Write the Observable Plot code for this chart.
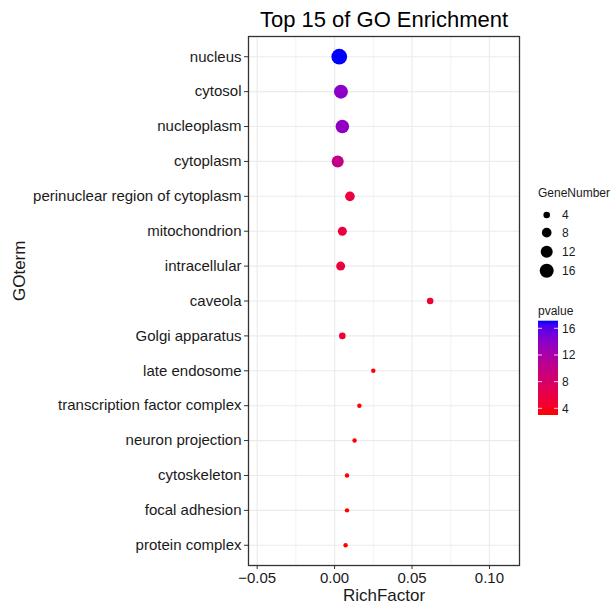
<!DOCTYPE html>
<html>
<head>
<meta charset="utf-8">
<script src="https://cdn.jsdelivr.net/npm/d3@7"></script>
<script src="https://cdn.jsdelivr.net/npm/@observablehq/plot@0.6"></script>
<style>
  html, body { margin: 0; padding: 0; background: #fff; }
  #chart { position: relative; width: 611px; height: 606px; }
</style>
</head>
<body>
<div id="chart"></div>
<script>
const terms = [
  "nucleus", "cytosol", "nucleoplasm", "cytoplasm", "perinuclear region of cytoplasm",
  "mitochondrion", "intracellular", "caveola", "Golgi apparatus", "late endosome",
  "transcription factor complex", "neuron projection", "cytoskeleton", "focal adhesion", "protein complex"
];
const richFactor = [0.0030, 0.0041, 0.0050, 0.0020, 0.0099, 0.0050, 0.0039, 0.0617, 0.0050, 0.0250, 0.0160, 0.0129, 0.0080, 0.0080, 0.0071];
const geneNumber = [20, 16, 15, 12, 8, 7, 7, 4, 4, 2, 2, 2, 2, 2, 2];
const pvalue = [17.14, 13.9, 13.6, 10.0, 5.6, 5.4, 5.3, 5.0, 5.1, 3.2, 3.1, 3.1, 3.0, 3.0, 3.0];
const xTicks = [-0.05, 0, 0.05, 0.10];
const xMinor = [-0.025, 0.025, 0.075];
const sizeBreaks = [4, 8, 12, 16];
const colorBreaks = [4, 8, 12, 16];

const data = terms.map((t, i) => ({term: t, rich: richFactor[i], genes: geneNumber[i], pvalue: pvalue[i]}));
const font = "'Liberation Sans', Arial, Helvetica, sans-serif";

const plot = Plot.plot({
  width: 611,
  height: 606,
  marginLeft: 248,
  marginRight: 92,
  marginTop: 36,
  marginBottom: 41,
  style: {fontFamily: font, background: "white", color: "#1a1a1a", overflow: "visible"},
  x: {domain: [-0.0556, 0.1194], label: null},
  y: {type: "point", domain: terms, padding: 0.58, round: false, label: null},
  r: {type: "pow", exponent: 0.5, domain: [4, 16], range: [3.3, 7]},
  color: {type: "linear", domain: d3.extent(pvalue), range: ["red", "blue"], interpolate: "lab"},
  marks: [
    Plot.ruleX(xMinor, {stroke: "#ebebeb", strokeWidth: 0.6}),
    Plot.ruleX(xTicks, {stroke: "#ebebeb", strokeWidth: 1.1}),
    Plot.ruleY(terms, {y: d => d, stroke: "#ebebeb", strokeWidth: 1.1}),
    Plot.dot(data, {x: "rich", y: "term", r: "genes", fill: "pvalue", stroke: "none"}),
    Plot.frame({stroke: "#333", strokeWidth: 1.3}),
    Plot.axisX(xTicks, {tickSize: 4, tickPadding: 3, fontSize: 15, tickFormat: d3.format(".2f"), label: null, stroke: "#333", fill: "#1a1a1a"}),
    Plot.axisY({tickSize: 4, tickPadding: 3, fontSize: 15, label: null, stroke: "#333", fill: "#1a1a1a"}),
    Plot.text(["Top 15 of GO Enrichment"], {frameAnchor: "top", dy: -10, lineAnchor: "bottom", fontSize: 22, fill: "#000"}),
    Plot.text(["RichFactor"], {frameAnchor: "bottom", dy: 35, lineAnchor: "bottom", fontSize: 17, fill: "#1a1a1a"}),
    Plot.text(["GOterm"], {frameAnchor: "left", dx: -229, rotate: -90, lineAnchor: "middle", fontSize: 17, fill: "#1a1a1a"})
  ]
});

document.getElementById("chart").appendChild(plot);

// Legends built from the plot's own scales
const rScale = plot.scale("r");
const cScale = plot.scale("color");
const svg = d3.select(plot);
const lg = svg.append("g").attr("font-family", font).attr("fill", "#1a1a1a").attr("text-anchor", "start");

lg.append("text").attr("x", 538).attr("y", 197).attr("font-size", 12).attr("text-anchor", "start").text("GeneNumber");
const keyY = [215, 232.7, 251.7, 270.7];
sizeBreaks.forEach((v, i) => {
  lg.append("circle").attr("cx", 546.7).attr("cy", keyY[i]).attr("r", rScale.apply(v)).attr("fill", "#000");
  lg.append("text").attr("x", 562).attr("y", keyY[i]).attr("dy", "0.35em").attr("font-size", 12).attr("text-anchor", "start").text(v);
});

lg.append("text").attr("x", 538).attr("y", 315).attr("font-size", 12).attr("text-anchor", "start").text("pvalue");
const cd = cScale.domain;
const barY = d3.scaleLinear().domain(cd).range([415, 320.7]);
const grad = svg.append("defs").append("linearGradient").attr("id", "pgrad")
  .attr("x1", 0).attr("y1", 1).attr("x2", 0).attr("y2", 0);
d3.range(0, 1.0001, 0.05).forEach(t => {
  grad.append("stop").attr("offset", t).attr("stop-color", cScale.apply(cd[0] + t * (cd[1] - cd[0])));
});
lg.append("rect").attr("x", 538).attr("y", barY(cd[1])).attr("width", 20)
  .attr("height", barY(cd[0]) - barY(cd[1])).attr("fill", "url(#pgrad)");
colorBreaks.forEach(v => {
  const y = barY(v);
  lg.append("line").attr("x1", 538).attr("x2", 542).attr("y1", y).attr("y2", y).attr("stroke", "white").attr("stroke-width", 0.8);
  lg.append("line").attr("x1", 554).attr("x2", 558).attr("y1", y).attr("y2", y).attr("stroke", "white").attr("stroke-width", 0.8);
  lg.append("text").attr("x", 562).attr("y", y).attr("dy", "0.35em").attr("font-size", 12).attr("text-anchor", "start").text(v);
});
</script>
</body>
</html>
